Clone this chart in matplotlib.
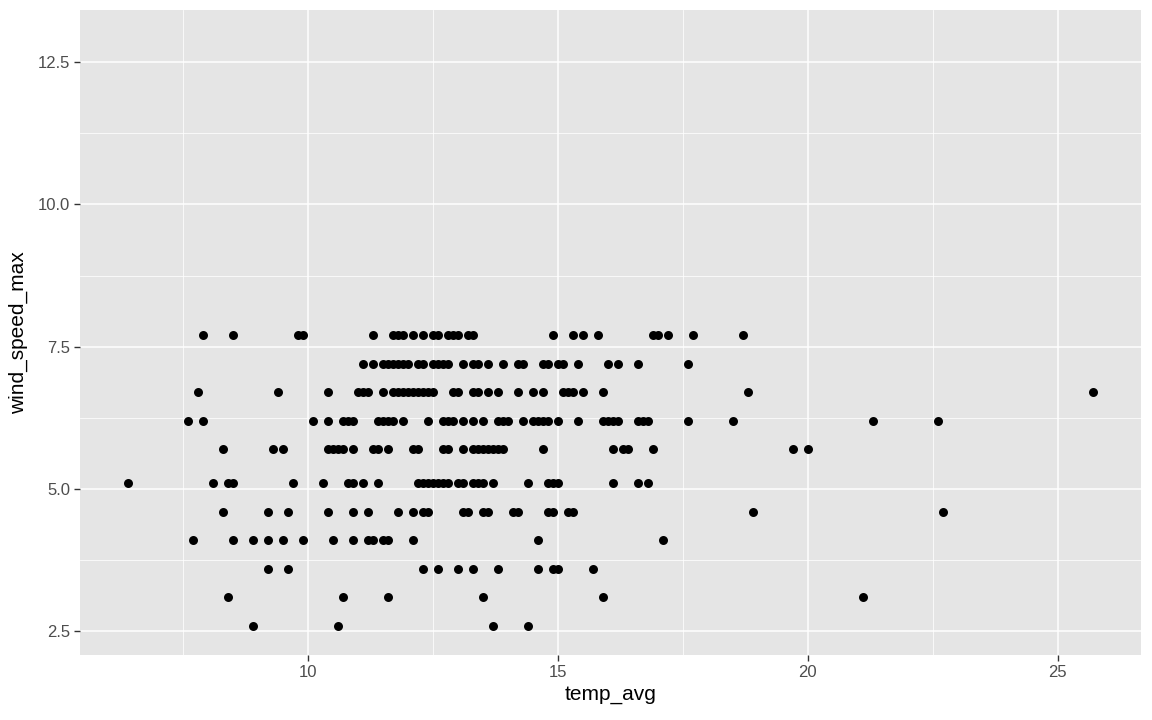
import numpy as np
import matplotlib.pyplot as plt
from matplotlib.ticker import MultipleLocator

plt.rcParams['font.family'] = ['Liberation Sans', 'DejaVu Sans']

## Points, grouped by wind_speed_max level
temp_77 = [7.9, 8.5, 9.8, 9.9, 11.3, 11.7, 11.8, 11.9, 12.1, 12.3, 12.5, 12.6, 12.8, 12.9,
           13.0, 13.2, 13.3, 14.9, 15.3, 15.5, 15.8, 16.9, 17.0, 17.2, 17.7, 18.7]
temp_72 = [11.1, 11.3, 11.5, 11.6, 11.7, 11.8, 11.9, 12.0, 12.2, 12.3, 12.5, 12.6, 12.7, 12.8,
           13.1, 13.3, 13.4, 13.6, 13.9, 14.2, 14.3, 14.7, 14.8, 15.0, 15.1, 15.4, 16.0, 16.2,
           16.6, 17.6]
temp_67 = [7.8, 9.4, 10.4, 11.0, 11.1, 11.2, 11.5, 11.7, 11.8, 11.9, 12.0, 12.1, 12.2, 12.3,
           12.4, 12.5, 12.9, 13.0, 13.3, 13.4, 13.6, 13.8, 14.2, 14.5, 14.7, 15.1, 15.2, 15.3,
           15.5, 15.9, 18.8, 25.7]
temp_62 = [7.6, 7.9, 10.1, 10.4, 10.7, 10.8, 10.9, 11.4, 11.5, 11.6, 11.7, 11.9, 12.4, 12.7,
           12.8, 12.9, 13.1, 13.3, 13.5, 13.8, 13.9, 14.0, 14.3, 14.5, 14.6, 14.7, 14.8, 15.0,
           15.4, 15.9, 16.0, 16.1, 16.2, 16.6, 16.7, 16.8, 17.6, 18.5, 21.3, 22.6]
temp_57 = [8.3, 9.3, 9.5, 10.4, 10.5, 10.6, 10.7, 10.9, 11.3, 11.4, 11.6, 12.1, 12.2, 12.7,
           12.8, 13.1, 13.3, 13.4, 13.5, 13.6, 13.7, 13.8, 13.9, 14.7, 16.1, 16.3, 16.4, 16.9,
           19.7, 20.0]
temp_51 = [6.4, 8.1, 8.4, 8.5, 9.7, 10.3, 10.8, 10.9, 11.1, 11.4, 12.2, 12.3, 12.4, 12.5,
           12.6, 12.7, 12.8, 13.0, 13.1, 13.3, 13.4, 13.5, 13.7, 14.4, 14.8, 14.9, 15.0, 16.1,
           16.6, 16.8]
temp_46 = [8.3, 9.2, 9.6, 10.4, 10.9, 11.2, 11.8, 12.1, 12.3, 12.4, 13.1, 13.2, 13.5, 13.6,
           14.1, 14.2, 14.8, 14.9, 15.2, 15.3, 18.9, 22.7]
temp_41 = [7.7, 8.5, 8.9, 9.2, 9.5, 9.9, 10.5, 10.9, 11.2, 11.3, 11.5, 11.6, 12.1, 14.6, 17.1]
temp_36 = [9.2, 9.6, 12.3, 12.6, 13.0, 13.3, 13.8, 14.6, 14.9, 15.0, 15.7]
temp_31 = [8.4, 10.7, 11.6, 13.5, 15.9, 21.1]
temp_26 = [8.9, 10.6, 13.7, 14.4]

levels = {7.7: temp_77, 7.2: temp_72, 6.7: temp_67, 6.2: temp_62, 5.7: temp_57,
          5.1: temp_51, 4.6: temp_46, 4.1: temp_41, 3.6: temp_36, 3.1: temp_31, 2.6: temp_26}

temp_avg = []
wind_speed_max = []
for w, temps in levels.items():
    temp_avg += temps
    wind_speed_max += [w] * len(temps)
temp_avg = np.array(temp_avg)
wind_speed_max = np.array(wind_speed_max)

## ggplot-ish look
fig = plt.figure(figsize=(11.52, 7.2), dpi=100)
ax = fig.add_axes([80/1152, 1 - 655/720, (1141 - 80)/1152, (655 - 10)/720])
ax.set_facecolor("#E5E5E5")
for s in ax.spines.values():
    s.set_visible(False)

ax.xaxis.set_major_locator(MultipleLocator(5))
ax.xaxis.set_minor_locator(MultipleLocator(2.5))
ax.yaxis.set_major_locator(MultipleLocator(2.5))
ax.yaxis.set_minor_locator(MultipleLocator(1.25))
ax.grid(True, which="major", color="white", linewidth=1.1)
ax.grid(True, which="minor", color="white", linewidth=0.55)
ax.set_axisbelow(True)

ax.scatter(temp_avg, wind_speed_max, s=42, color="black", linewidths=0, zorder=3)

ax.set_xlim(5.435, 26.665)
ax.set_ylim(2.085, 13.415)
ax.yaxis.set_major_formatter(plt.FuncFormatter(lambda v, p: f"{v:.1f}"))

ax.tick_params(which="major", length=4, width=1, color="#333333",
               labelsize=12, labelcolor="#4D4D4D", pad=3)
ax.tick_params(which="minor", length=0)

ax.set_xlabel("temp_avg", fontsize=15, color="black", labelpad=4)
ax.set_ylabel("wind_speed_max", fontsize=15, color="black", labelpad=7)

plt.savefig("out.png", dpi=100)
